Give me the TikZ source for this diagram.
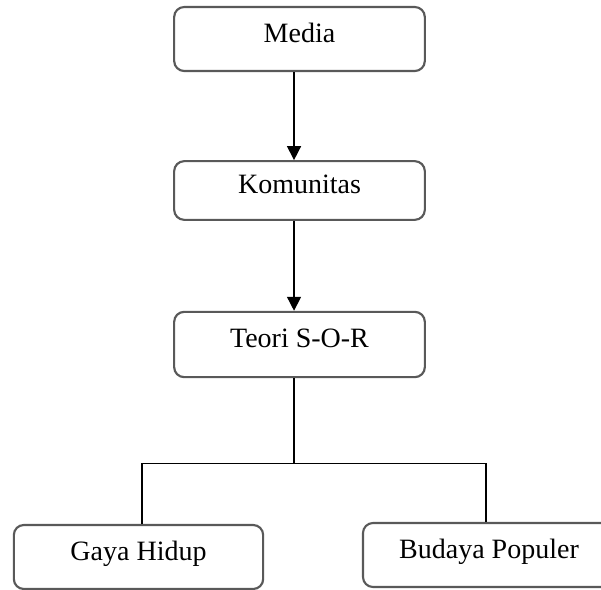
\documentclass[tikz,border=0pt]{standalone}
\usepackage{fontspec}
\setmainfont{Liberation Serif}
\usetikzlibrary{arrows.meta}
\begin{document}
\begin{tikzpicture}[x=0.75pt, y=-0.75pt, >={Triangle[length=10.5pt,width=10.5pt]},
    block/.style={draw=black!65, line width=1.6pt, rounded corners=7.5pt, fill=white,
        minimum width=188pt, text height=15pt, text depth=10.5pt, inner sep=0pt,
        font=\fontsize{21}{24}\selectfont},
    link/.style={draw=black, line width=1.1pt}]
\useasboundingbox (0,0) rectangle (601,590);

\node[block, minimum height=48pt] (media) at (299.5,39) {Media};
\node[block, minimum height=44pt] (komunitas) at (299.5,190.5) {Komunitas};
\node[block, minimum height=49pt] (teori) at (299.5,344.5) {Teori S-O-R};
\node[block, minimum height=48pt, minimum width=187pt] (gaya) at (138.5,557) {Gaya Hidup};
\node[block, minimum height=48pt, minimum width=189pt] (budaya) at (489,555) {Budaya Populer};

\draw[link, ->]([xshift=-4.1pt]media.south)--([xshift=-4.1pt]komunitas.north);
\draw[link, ->]([xshift=-4.1pt]komunitas.south)--([xshift=-4.1pt]teori.north);

\draw[link]([xshift=-4.1pt]teori.south)--++(0,85)coordinate(fork);
\draw[link]([xshift=2.6pt]gaya.north)|-(fork)-|([xshift=-2.3pt]budaya.north);
\end{tikzpicture}
\end{document}
